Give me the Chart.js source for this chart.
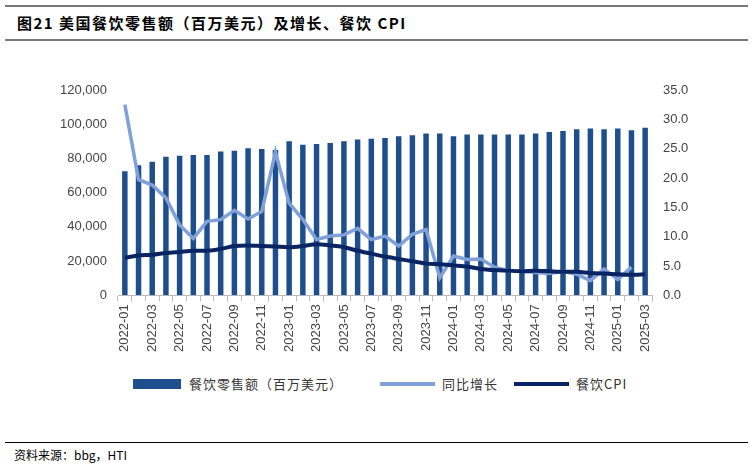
<!DOCTYPE html><html><head><meta charset="utf-8">
<script src="https://cdn.jsdelivr.net/npm/chart.js@4"></script>
<style>
body{margin:0;width:753px;height:467px;background:#fff;font-family:"Noto Sans CJK SC","Liberation Sans",sans-serif;position:relative;overflow:hidden}
#t{position:absolute;left:17px;top:12px;font-size:15px;font-weight:bold;color:#000;letter-spacing:1.5px}
.hl{position:absolute;left:5px;width:743px;height:2px;background:#777}
#s{position:absolute;left:14px;top:446px;font-size:12px;color:#000}
#c{position:absolute;left:0;top:50px}
.lg{position:absolute;top:374px;font-size:13px;color:#333;display:flex;align-items:center;letter-spacing:1px}
</style></head><body>
<div class="hl" style="top:5px"></div>
<div id="t">图21 美国餐饮零售额（百万美元）及增长、餐饮 CPI</div>
<div class="hl" style="top:39px"></div>
<canvas id="c" width="753" height="305"></canvas>
<div class="lg" style="left:133px"><span style="display:inline-block;width:48px;height:10px;background:#1F4E8C;margin-right:8px"></span>餐饮零售额（百万美元）</div>
<div class="lg" style="left:380px"><span style="display:inline-block;width:55px;height:4px;background:#7FA0D8;margin-right:7px"></span>同比增长</div>
<div class="lg" style="left:514px"><span style="display:inline-block;width:55px;height:4px;background:#0A2463;margin-right:7px"></span>餐饮CPI</div>
<div class="hl" style="top:442px;height:1px;background:#000"></div>
<div id="s">资料来源：bbg，HTI</div>
<script>
const labels=[];for(let y=2022;y<=2025;y++)for(let m=1;m<=12;m++){if(y===2025&&m>3)break;labels.push(y+'-'+String(m).padStart(2,'0'));}
const sales=[72500,76000,78000,81000,81500,82000,82000,84000,84500,86000,85500,85000,90000,88000,88500,89000,90000,91000,91500,92000,93000,93500,94500,94500,93000,94000,94000,94000,94000,94000,94500,95500,96000,97000,97500,97000,97500,96500,98000];
const growth=[32.5,19.7,18.8,16.6,12.0,9.7,12.6,12.9,14.5,13.0,14.3,24.4,15.7,12.9,9.5,10.1,10.3,11.4,9.5,10.1,8.4,10.4,11.2,3.0,6.7,6.1,6.2,4.8,4.2,4.1,3.9,3.7,4.1,3.6,2.5,4.5,2.7,4.8,null];
const cpi=[6.4,6.8,6.9,7.2,7.4,7.6,7.6,7.9,8.4,8.5,8.4,8.3,8.2,8.4,8.7,8.5,8.2,7.6,7.1,6.6,6.2,5.8,5.4,5.3,5.1,4.9,4.5,4.3,4.2,4.1,4.2,4.1,4.0,4.0,3.8,3.7,3.6,3.5,3.6];
const tickFont={family:"Liberation Sans",size:13};
new Chart(document.getElementById('c'),{data:{labels,datasets:[
{type:'line',data:cpi,yAxisID:'y1',borderColor:'#0A2463',borderWidth:4,pointRadius:0,tension:0.3,order:1},
{type:'line',data:growth,yAxisID:'y1',borderColor:'#7FA0D8',borderWidth:3.5,pointRadius:0,order:2},
{type:'bar',data:sales,yAxisID:'y',backgroundColor:'#1F4E8C',barPercentage:0.4,categoryPercentage:1,order:3}]},
options:{responsive:false,animation:false,plugins:{legend:{display:false},tooltip:{enabled:false}},
layout:{padding:{top:40,bottom:0}},
scales:{
x:{grid:{display:true,drawOnChartArea:false,offset:true,color:'#bbb',tickLength:6},border:{color:'#bbb'},
 ticks:{font:tickFont,color:'#444',maxRotation:90,minRotation:90,autoSkip:false,callback:(v,i)=>i%2===0?labels[i]:''}},
y:{position:'left',min:0,max:120000,ticks:{stepSize:20000,font:tickFont,color:'#444',callback:v=>v.toLocaleString('en-US')},grid:{display:false},border:{display:false},afterFit:a=>{a.width=118}},
y1:{position:'right',min:0,max:35,ticks:{stepSize:5,font:tickFont,color:'#444',callback:v=>v.toFixed(1)},grid:{display:false},border:{display:false},afterFit:a=>{a.width=101}}
}}});
</script></body></html>
